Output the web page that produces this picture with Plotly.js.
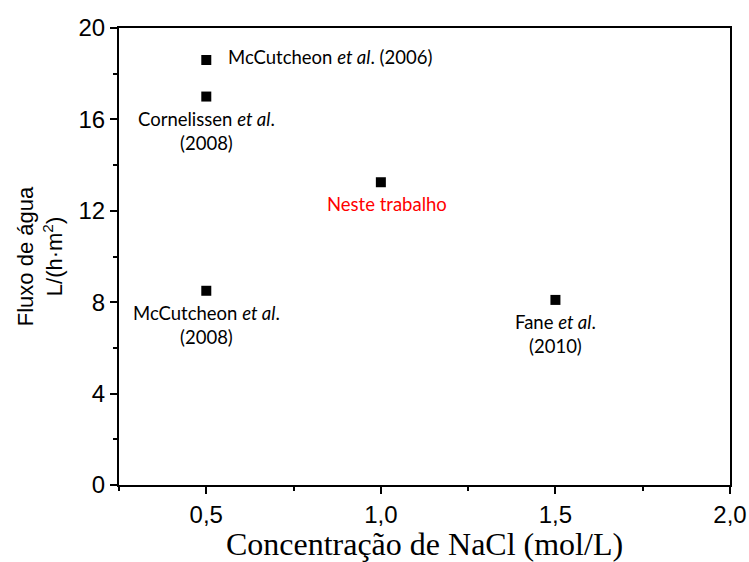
<!DOCTYPE html>
<html>
<head>
<meta charset="utf-8">
<script src="https://cdn.plot.ly/plotly-3.0.1.min.js"></script>
<style>html,body{margin:0;padding:0;background:#fff;}#chart{width:749px;height:562px;}</style>
</head>
<body>
<div id="chart"></div>
<script>
const concentration = [0.5, 0.5, 0.5, 1.0, 1.5];
const flux = [18.6, 17.0, 8.5, 13.25, 8.1];
const labels = [
  'McCutcheon <i>et al</i>. (2006)',
  'Cornelissen <i>et al</i>.<br>(2008)',
  'McCutcheon <i>et al</i>.<br>(2008)',
  'Neste trabalho',
  'Fane <i>et al</i>.<br>(2010)'
];
const labelColors = ['#000', '#000', '#000', '#ff0000', '#000'];
const labelPlacement = ['right', 'below', 'below', 'below', 'below'];

const trace = {
  x: concentration, y: flux, type: 'scatter', mode: 'markers',
  marker: {symbol: 'square', size: 10, color: '#000'},
  hoverinfo: 'skip'
};

const annFont = 'Lato, "Open Sans", sans-serif';
const annotations = concentration.map((c, i) => {
  const a = {
    x: c, y: flux[i], xref: 'x', yref: 'y', text: labels[i], showarrow: false,
    font: {family: annFont, size: 18.5, color: labelColors[i]}
  };
  if (labelPlacement[i] === 'right') {
    a.xanchor = 'left'; a.yanchor = 'middle'; a.xshift = 20; a.yshift = 3;
  } else {
    a.xanchor = 'center'; a.yanchor = 'top'; a.yshift = -9;
    if (i === 3) a.xshift = 6;
  }
  return a;
});

const axisCommon = {
  showline: true, linecolor: '#000', linewidth: 2, mirror: true,
  ticks: 'outside', ticklen: 7, tickwidth: 2, tickcolor: '#000',
  showgrid: false, zeroline: false,
  tickfont: {family: '"Liberation Sans", Arial, sans-serif', size: 24, color: '#000'}
};

const layout = {
  width: 749, height: 562,
  margin: {l: 119, r: 19, t: 28, b: 77},
  paper_bgcolor: '#fff', plot_bgcolor: '#fff',
  separators: ',.',
  showlegend: false,
  xaxis: Object.assign({}, axisCommon, {
    range: [0.25, 2.0], tickvals: [0.5, 1.0, 1.5, 2.0], tickformat: '.1f',
    minor: {tickvals: [0.25, 0.75, 1.25, 1.75], ticks: 'outside', ticklen: 4, tickwidth: 2, tickcolor: '#000'},
    title: {text: 'Concentração de NaCl (mol/L)', standoff: 4,
      font: {family: '"Liberation Serif", "Times New Roman", serif', size: 32, color: '#000'}}
  }),
  yaxis: Object.assign({}, axisCommon, {
    range: [0, 20], tickvals: [0, 4, 8, 12, 16, 20],
    minor: {tickvals: [2, 6, 10, 14, 18], ticks: 'outside', ticklen: 4, tickwidth: 2, tickcolor: '#000'},
    title: {text: 'Fluxo de água<br>L/(h·m<sup>2</sup>)', standoff: 10,
      font: {family: '"Liberation Sans", Arial, sans-serif', size: 22, color: '#000'}}
  }),
  annotations: annotations
};

Plotly.newPlot('chart', [trace], layout, {displayModeBar: false, staticPlot: true});
</script>
</body>
</html>
